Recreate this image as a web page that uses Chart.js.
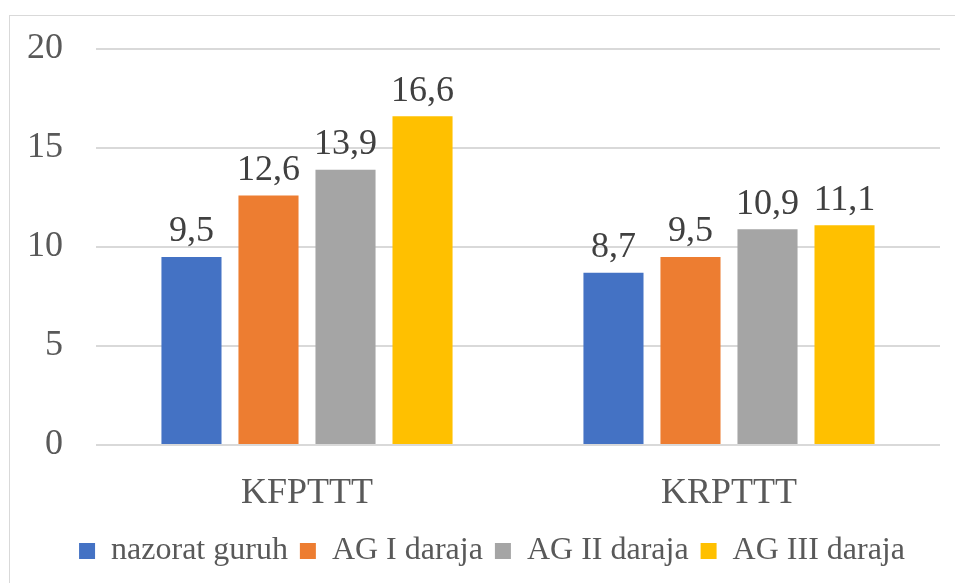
<!DOCTYPE html>
<html>
<head>
<meta charset="utf-8">
<script src="https://cdn.jsdelivr.net/npm/chart.js@4"></script>
<style>
  body { margin: 0; background: #fff; }
</style>
</head>
<body>
<canvas id="barchart" width="955" height="583"></canvas>
<script>
const categories = ["KFPTTT", "KRPTTT"];
const seriesNames = ["nazorat guruh", "AG I daraja", "AG II daraja", "AG III daraja"];
const nazorat = [9.5, 8.7];
const ag1 = [12.6, 9.5];
const ag2 = [13.9, 10.9];
const ag3 = [16.6, 11.1];
const yTicks = [0, 5, 10, 15, 20];

const colors = ["#4472C4", "#ED7D31", "#A5A5A5", "#FFC000"];
const font = "'Liberation Serif', 'Times New Roman', serif";

// light frame around the whole chart; legend nudged to the right
const frame = {
  id: "frame",
  afterLayout(chart) {
    chart.legend.left += 12;
    chart.legend.right += 12;
  },
  beforeDraw(chart) {
    const c = chart.ctx;
    c.save();
    c.fillStyle = "#fff";
    c.fillRect(0, 0, chart.width, chart.height);
    c.strokeStyle = "#d9d9d9";
    c.lineWidth = 1;
    c.strokeRect(9.5, 15.5, chart.width, chart.height);
    c.restore();
  },
};

// value labels above each bar, decimal comma
const barValues = {
  id: "barValues",
  afterDatasetsDraw(chart) {
    const c = chart.ctx;
    c.save();
    c.font = "36px " + font;
    c.fillStyle = "#404040";
    c.textAlign = "center";
    c.textBaseline = "bottom";
    chart.data.datasets.forEach((ds, i) => {
      chart.getDatasetMeta(i).data.forEach((bar, j) => {
        c.fillText(String(ds.data[j]).replace(".", ","), bar.x, bar.y - 7);
      });
    });
    c.restore();
  },
};

const ctx = document.getElementById("barchart");

new Chart(ctx, {
  type: "bar",
  data: {
    labels: categories,
    datasets: [nazorat, ag1, ag2, ag3].map((d, i) => ({
      label: seriesNames[i],
      data: d,
      backgroundColor: colors[i],
      borderWidth: 0,
      barPercentage: 0.78,
      categoryPercentage: 0.73,
    })),
  },
  options: {
    responsive: false,
    animation: false,
    layout: { padding: { left: 20, right: 15, top: 49, bottom: 6 } },
    plugins: {
      tooltip: { enabled: false },
      legend: {
        position: "bottom",
        labels: {
          boxWidth: 16,
          boxHeight: 16,
          padding: 12,
          color: "#595959",
          font: { family: font, size: 32 },
        },
      },
    },
    scales: {
      x: {
        grid: { display: false },
        border: { display: false },
        ticks: { color: "#595959", padding: 19, font: { family: font, size: 36 } },
        afterFit(scale) {
          scale.height = 78;
          scale.paddingLeft = 0;
          scale.paddingRight = 0;
        },
      },
      y: {
        min: 0,
        max: 20,
        afterBuildTicks(scale) { scale.ticks = yTicks.map((v) => ({ value: v })); },
        grid: { color: "#d9d9d9", lineWidth: 2, drawTicks: false },
        border: { display: false },
        ticks: { color: "#595959", padding: 33, font: { family: font, size: 36 } },
        afterFit(scale) {
          scale.width = 76;
          scale.paddingTop = 0;
          scale.paddingBottom = 0;
        },
      },
    },
  },
  plugins: [frame, barValues],
});
</script>
</body>
</html>
